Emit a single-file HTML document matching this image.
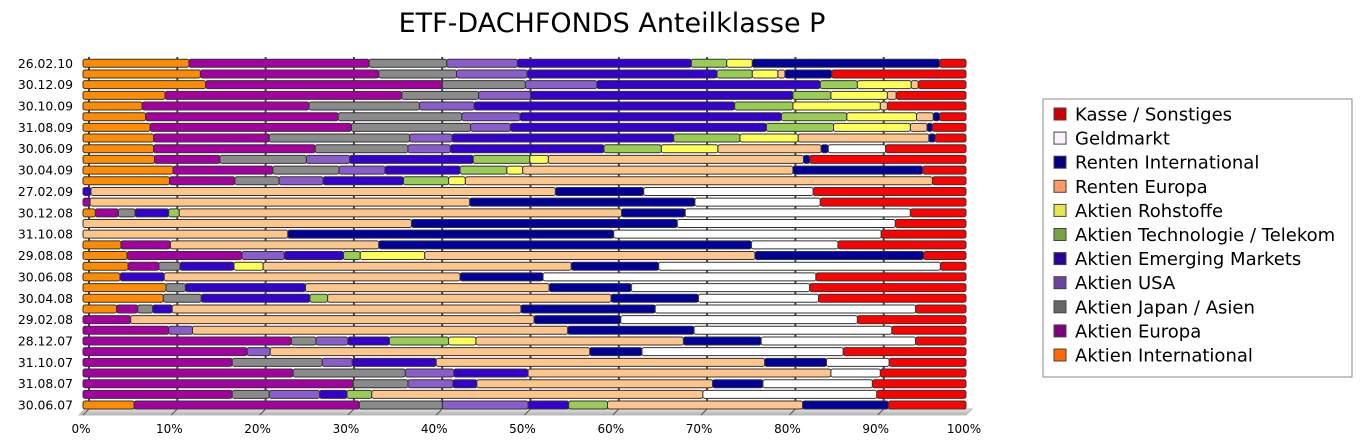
<!DOCTYPE html>
<html><head><meta charset="utf-8">
<style>
body{margin:0;background:#fff;width:1367px;height:441px;overflow:hidden;font-family:"DejaVu Sans","Liberation Sans",sans-serif;}
svg text{font-family:"DejaVu Sans","Liberation Sans",sans-serif;}
</style></head>
<body>
<svg id="chart" width="1367" height="441" xmlns="http://www.w3.org/2000/svg">
<defs><linearGradient id="fl" x1="0" y1="0" x2="0" y2="1"><stop offset="0" stop-color="#e6e6e6"/><stop offset="1" stop-color="#b0b0b0"/></linearGradient></defs>
<text x="612" y="32" font-size="27" text-anchor="middle" fill="#000">ETF-DACHFONDS Anteilklasse P</text>
<g id="grid"></g>
<g id="bars"></g>
<g id="ylabels"></g>
<g id="xlabels"></g>
<g id="legend"></g>
</svg>
<script>
const rowLabels=["26.02.10","","30.12.09","","30.10.09","","31.08.09","","30.06.09","","30.04.09","","27.02.09","","30.12.08","","31.10.08","","29.08.08","","30.06.08","","30.04.08","","29.02.08","","28.12.07","","31.10.07","","31.08.07","","30.06.07"];
const seriesNames=["Aktien International","Aktien Europa","Aktien Japan / Asien","Aktien USA","Aktien Emerging Markets","Aktien Technologie / Telekom","Aktien Rohstoffe","Renten Europa","Renten International","Geldmarkt","Kasse / Sonstiges"];
const seriesColors=["#ff8c00","#a400a0","#8a8a8a","#8a5ccc","#3300cc","#99cc55","#ffff55","#ffc58a","#000099","#ffffff","#ff0000"];
const legendColors=["#ff6a00","#800080","#666666","#6a449c","#2a0099","#77a344","#e6e64c","#ff9966","#000080","#fff0ff","#cc0000"];
const xTicks=["0%","10%","20%","30%","40%","50%","60%","70%","80%","90%","100%"];
const values=[
[12.0,20.4,8.8,8.0,19.7,4.0,2.9,0,21.2,0,3.0],
[13.3,20.2,8.8,8.0,21.5,4.0,2.9,0.8,5.3,0,15.2],
[13.9,26.8,9.4,8.1,25.3,4.2,6.1,0.8,0,0,5.4],
[9.3,26.8,8.7,5.9,29.7,4.3,6.4,1.0,0,0,7.9],
[6.7,18.9,12.5,6.2,29.5,6.6,9.9,0.8,0,0,8.9],
[7.1,21.8,14.0,6.6,29.6,7.4,7.9,1.9,0.7,0,3.0],
[7.6,22.8,13.5,4.5,29.0,7.6,8.7,1.9,0.6,0,3.8],
[8.0,13.1,15.9,4.8,25.1,7.5,6.6,14.8,0.7,0,3.5],
[8.0,18.3,10.5,4.8,17.4,6.5,6.4,11.7,0.8,6.5,9.1],
[8.1,7.4,9.8,4.9,14.0,6.4,2.1,28.9,0.7,0,17.7],
[10.2,11.3,7.5,5.2,8.5,5.3,1.8,30.6,14.7,0,4.9],
[9.8,7.4,5.0,5.0,9.1,5.1,1.9,52.9,0,0,3.8],
[0,0,0,0,0.9,0,0,52.6,10.0,19.2,17.3],
[0,0.8,0,0,0,0,0,43.0,25.5,14.2,16.5],
[1.4,2.6,1.9,0,3.8,1.2,0,50.1,7.2,25.5,6.3],
[0,0,0,0,0,0,0,37.2,30.1,24.7,8.0],
[0,0,0,0,0,0,0,23.2,36.9,30.3,9.6],
[4.3,5.6,0,0,0,0,0,23.6,42.2,9.8,14.5],
[5.0,13.0,0,4.8,6.7,1.9,7.3,37.4,19.1,0,4.8],
[5.1,3.5,2.4,0,6.1,0,3.3,34.9,9.9,31.9,2.9],
[4.2,0,0,0,5.0,0,0,33.5,9.4,30.9,17.0],
[9.4,0,2.2,0,13.6,0,0,27.6,9.3,20.2,17.7],
[9.1,0,4.3,0,12.3,2.0,0,32.1,9.9,13.6,16.7],
[3.8,2.4,1.7,0,2.2,0,0,39.5,15.2,29.5,5.7],
[0,5.4,0,0,0,0,0,45.7,9.8,26.8,12.3],
[0,9.7,0,2.7,0,0,0,42.5,14.3,22.4,8.4],
[0,23.6,2.8,3.6,4.7,6.7,3.1,23.5,8.8,17.5,5.7],
[0,18.6,0,2.6,0,0,0,36.2,5.9,22.8,13.9],
[0,16.9,10.2,3.4,9.5,0,0,37.2,7.0,7.1,8.7],
[0,23.8,12.7,5.5,8.4,0,0,34.3,0,5.6,9.7],
[0,30.6,6.2,5.1,2.7,0,0,26.7,5.7,12.4,10.6],
[0,16.9,4.2,5.7,3.1,2.8,0,37.5,0,19.7,10.1],
[5.8,25.5,9.4,9.7,4.6,4.4,0,22.1,9.7,0,8.8]
];
const NS="http://www.w3.org/2000/svg";
const X0=83,XW=883,Y0=63.3,DY=10.68,BH=8;
function xs(p){return X0+XW*p/100;}
function ys(i){return Y0+DY*i;}
function mk(t,a,parent){const e=document.createElementNS(NS,t);for(const k in a)e.setAttribute(k,a[k]);parent.appendChild(e);return e;}
const grid=document.getElementById('grid');
const floor=mk('polygon',{points:`${X0-4},415 ${X0+XW},415 ${X0+XW+6},409 ${X0+2},409`,fill:'url(#fl)',stroke:'#bbb','stroke-width':1},grid);


xTicks.forEach((t,k)=>{
  const gx=xs(k*10)+6;
  if(k<10){
    const gl=mk('line',{x1:gx,y1:57,x2:gx,y2:409,stroke:'#444','stroke-width':2},grid);
    
    
    const tk=mk('line',{x1:gx,y1:409,x2:gx-6,y2:415,stroke:'#555','stroke-width':1},grid);
    
    
  }
  const lab=mk('text',{x:xs(k*10)-2,y:433,'font-size':12,'text-anchor':'middle',fill:'#000'},document.getElementById('xlabels'));
  lab.textContent=t;
  
  
});
const bars=document.getElementById('bars');
values.forEach((row,i)=>{
  let cum=0;const y=ys(i)-BH/2;
  row.forEach((v,s)=>{
    if(v<=0){return;}
    const x1=xs(cum),x2=xs(cum+v);cum+=v;
    const r=mk('rect',{x:x1,y:y,width:Math.max(x2-x1,1),height:BH,rx:2,fill:seriesColors[s],stroke:'#333','stroke-width':1},bars);
    
    
  });
  if(rowLabels[i]){
    const t=mk('text',{x:73,y:ys(i)+4.5,'font-size':12.4,'text-anchor':'end',fill:'#000'},document.getElementById('ylabels'));
    t.textContent=rowLabels[i];
    
    
  }
});
const lg=document.getElementById('legend');
mk('rect',{x:1043,y:99,width:309,height:278,fill:'#fff',stroke:'#888','stroke-width':1},lg);
for(let k=0;k<11;k++){
  const s=10-k,yy=114+k*24.1;
  const sw=mk('rect',{x:1054,y:yy-6,width:12,height:12,fill:legendColors[s],stroke:'#444','stroke-width':1},lg);
  
  
  const t=mk('text',{x:1075,y:yy+6.5,'font-size':18,fill:'#000'},lg);
  t.textContent=seriesNames[s];
  
  
}
</script>
</body></html>
